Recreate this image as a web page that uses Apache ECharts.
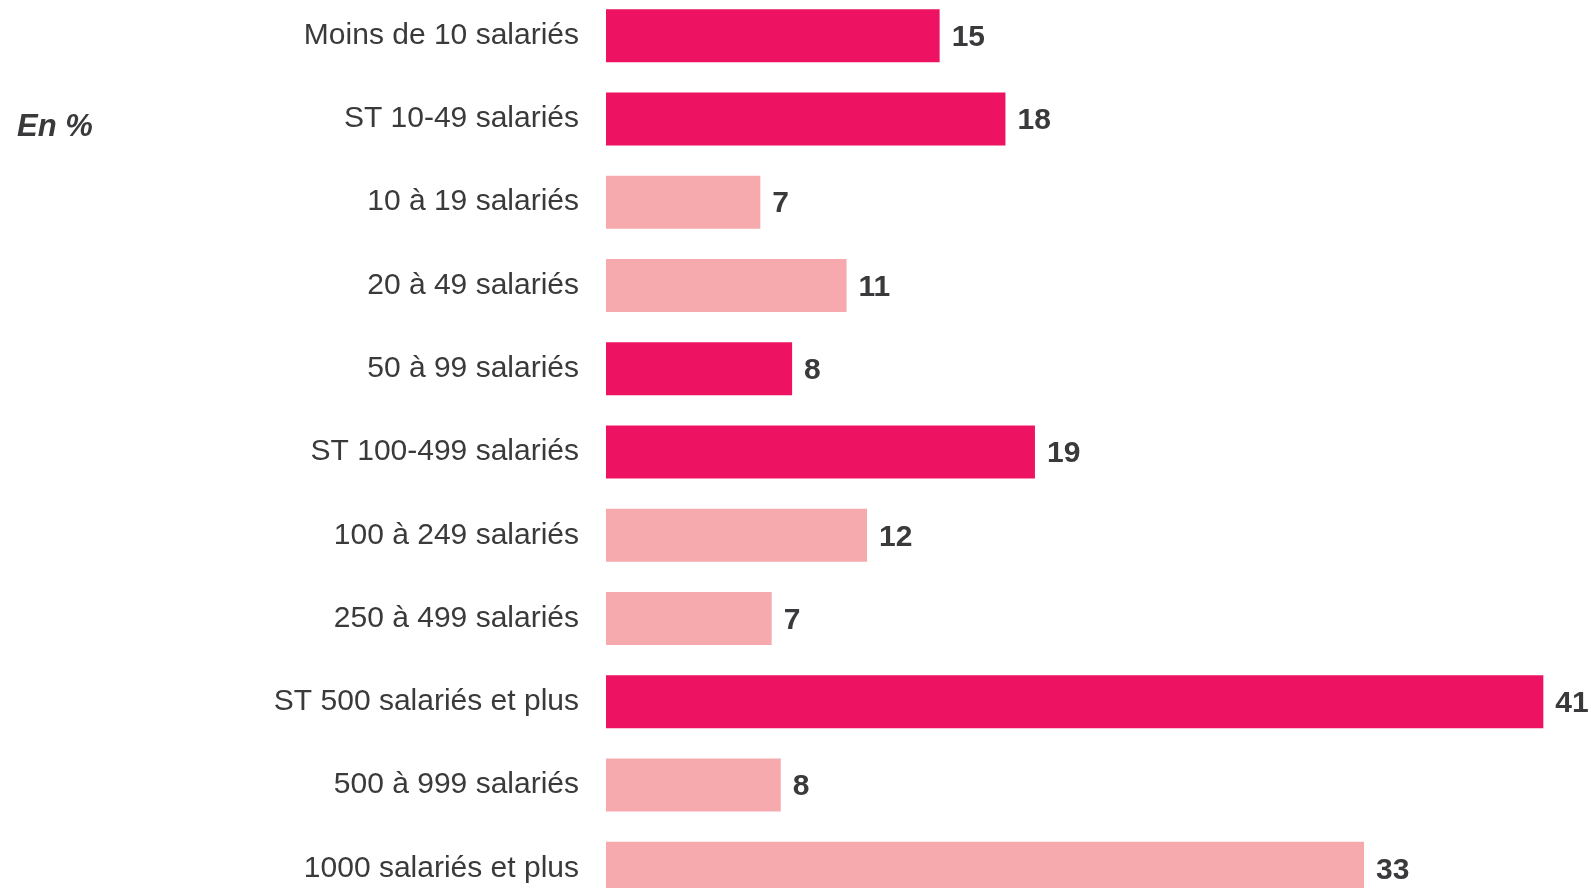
<!DOCTYPE html>
<html>
<head>
<meta charset="utf-8">
<script src="https://cdn.jsdelivr.net/npm/echarts@6/dist/echarts.min.js"></script>
<style>
  html, body { margin: 0; padding: 0; background: #fff; overflow: hidden; }
  /* la grille déborde un peu en haut et en bas de la fenêtre */
  #main { position: absolute; left: 0; top: -6px; width: 1591px; height: 916px; }
</style>
</head>
<body>
<div id="main"></div>
<script>
const categories = [
    'Moins de 10 salariés',
    'ST 10-49 salariés',
    '10 à 19 salariés',
    '20 à 49 salariés',
    '50 à 99 salariés',
    'ST 100-499 salariés',
    '100 à 249 salariés',
    '250 à 499 salariés',
    'ST 500 salariés et plus',
    '500 à 999 salariés',
    '1000 salariés et plus'
];
// valeurs estimées d'après la longueur des barres (étiquettes arrondies)
const valeurs = [14.7, 17.6, 6.8, 10.6, 8.2, 18.9, 11.5, 7.3, 41.3, 7.7, 33.4];
// sous-totaux en rose foncé, le détail en rose clair
const sousTotal = [true, true, false, false, true, true, false, false, true, false, false];

const roseFonce = '#ED1262';
const roseClair = '#F6AAAD';
const texte = '#3a3a3c';
const police = '"Liberation Sans", Arial, Helvetica, sans-serif';

let chart = echarts.init(document.getElementById('main'));

const option = {
    animation: false,
    backgroundColor: '#fff',
    graphic: [{
        type: 'text',
        left: 17,
        top: 118,
        style: {
            text: 'En %',
            fontFamily: police,
            fontSize: 31,
            fontWeight: 'bold',
            fontStyle: 'italic',
            fill: texte
        }
    }],
    grid: {
        left: 606,
        right: 0,
        top: 0,
        bottom: 0,
        containLabel: false
    },
    xAxis: {
        type: 'value',
        min: 0,
        max: 43.4,
        show: false
    },
    yAxis: {
        type: 'category',
        data: categories,
        inverse: true,
        axisLine: { show: false },
        axisTick: { show: false },
        splitLine: { show: false },
        axisLabel: {
            margin: 27,
            color: texte,
            fontFamily: police,
            fontSize: 30,
            lineHeight: 34,
            verticalAlign: 'middle',
            padding: [6, 0, 0, 0]
        }
    },
    series: [{
        type: 'bar',
        barWidth: 53,
        data: valeurs.map((v, i) => ({
            value: v,
            itemStyle: { color: sousTotal[i] ? roseFonce : roseClair }
        })),
        label: {
            show: true,
            position: 'right',
            distance: 12,
            offset: [0, 2],
            color: texte,
            fontFamily: police,
            fontSize: 30,
            fontWeight: 'bold',
            formatter: p => Math.round(p.value)
        }
    }]
};

chart.setOption(option);
</script>
</body>
</html>
